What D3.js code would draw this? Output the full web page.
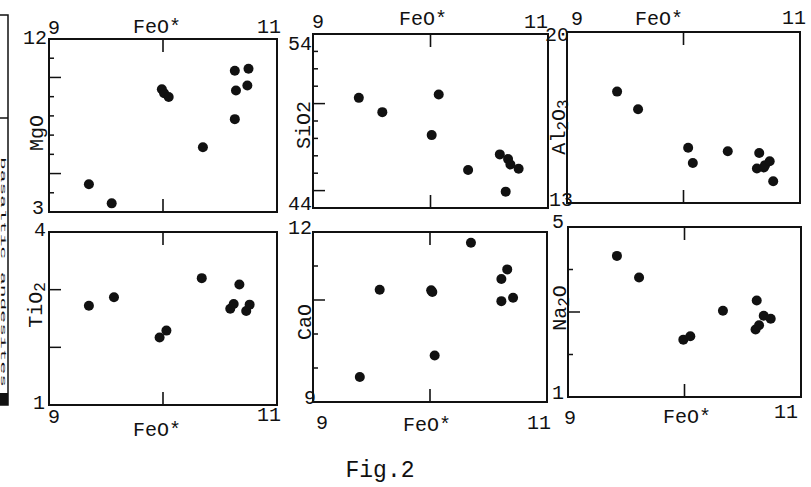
<!DOCTYPE html>
<html><head><meta charset="utf-8">
<script src="https://cdn.jsdelivr.net/npm/d3@7"></script>
<style>
html,body{margin:0;padding:0;background:#fff;}
svg{display:block;}
text{font-family:"Liberation Mono","DejaVu Sans Mono",monospace;fill:#111;}
</style></head>
<body>
<svg id="chart" width="811" height="487"></svg>
<script>
// ---- data ----
const feoDomain = [9, 11];
const feoTicks = [10];

const feoMgO = [9.35, 9.55, 9.99, 10.01, 10.05, 10.35, 10.63, 10.64, 10.74, 10.63, 10.75];
const mgo    = [4.44, 3.45, 9.39, 9.18, 8.98, 6.37, 7.83, 9.32, 9.58, 10.35, 10.45];

const feoSiO2 = [9.39, 9.59, 10.07, 10.01, 10.32, 10.59, 10.66, 10.68, 10.75, 10.64];
const sio2    = [50.33, 49.51, 50.52, 48.19, 46.18, 47.08, 46.81, 46.50, 46.26, 44.94];

const feoAl2O3 = [9.43, 9.61, 10.04, 10.08, 10.38, 10.65, 10.63, 10.69, 10.70, 10.74, 10.77];
const al2o3    = [17.56, 16.84, 15.26, 14.64, 15.12, 15.05, 14.41, 14.45, 14.55, 14.71, 13.89];

const feoTiO2 = [9.35, 9.57, 9.97, 10.03, 10.34, 10.67, 10.59, 10.62, 10.73, 10.76];
const tio2    = [2.72, 2.87, 2.17, 2.29, 3.20, 3.09, 2.67, 2.75, 2.63, 2.74];

const feoCaO = [9.40, 9.57, 10.01, 10.02, 10.04, 10.35, 10.66, 10.61, 10.61, 10.71];
const cao    = [9.44, 10.98, 10.97, 10.94, 9.82, 11.81, 11.34, 11.17, 10.78, 10.84];

const feoNa2O = [9.42, 9.61, 9.99, 10.05, 10.33, 10.62, 10.61, 10.64, 10.68, 10.74];
const na2o    = [4.32, 3.81, 2.35, 2.43, 3.03, 3.27, 2.59, 2.69, 2.91, 2.84];

const oxideNames = ["MgO", "SiO2", "Al2O3", "TiO2", "CaO", "Na2O"];
const yDomains = [[3, 12], [44, 54], [13, 20], [1, 4], [9, 12], [1, 5]];
const yTickLabels = [["3", "12"], ["44", "54"], ["13", "20"], ["1", "4"], ["9", "12"], ["1", "5"]];
const yMinor = [[4, 6, 7, 8, 9, 11], [46, 47, 48, 49, 51, 52, 53], [], [], [9.6, 10.2, 11.4], [2, 4]];
const yMajor = [[5, 10], [45, 50], [], [2, 3], [10.8], [3]];
const xSeries = [feoMgO, feoSiO2, feoAl2O3, feoTiO2, feoCaO, feoNa2O];
const ySeries = [mgo, sio2, al2o3, tio2, cao, na2o];

// ---- layout ----
const panels = [
  {l: 49, t: 39, r: 277, b: 212},
  {l: 313, t: 34, r: 548, b: 208},
  {l: 567, t: 32, r: 800, b: 203},
  {l: 49, t: 232, r: 277, b: 405},
  {l: 313, t: 232, r: 547, b: 402},
  {l: 568, t: 227, r: 801, b: 397}
];
const lab = [
  {ymax:[47,44], ymin:[44,214], x9:[48,34], x11:[281,33], feo:[157,33], title:[37,133], sub:false},
  {ymax:[312,50], ymin:[312,210], x9:[312,28], x11:[548,28], feo:[423,25], title:[304,125], sub:false},
  {ymax:[569,41], ymin:[573,206], x9:[571,25], x11:[806,24], feo:[659,25], title:[559,127], sub:true},
  {ymax:[46,236], ymin:[45,409], x9:[48,423], x11:[281,421], feo:[157,436], title:[36,305], sub:true},
  {ymax:[312,234], ymin:[316,404], x9:[316,429], x11:[551,429], feo:[427,431], title:[305,322], sub:false},
  {ymax:[564,228], ymin:[564,399], x9:[564,424], x11:[798,418], feo:[687,423], title:[560,308], sub:true}
];

const svg = d3.select("#chart");
const fs = 20;

panels.forEach((p, i) => {
  const x = d3.scaleLinear().domain(feoDomain).range([p.l, p.r]);
  const y = d3.scaleLinear().domain(yDomains[i]).range([p.b, p.t]);
  const g = svg.append("g");

  g.append("rect").attr("x", p.l).attr("y", p.t)
    .attr("width", p.r - p.l).attr("height", p.b - p.t)
    .attr("fill", "none").attr("stroke", "#111").attr("stroke-width", 2);

  feoTicks.forEach(v => {
    g.append("line").attr("x1", x(v)).attr("x2", x(v)).attr("y1", p.t).attr("y2", p.t + 13)
      .attr("stroke", "#111").attr("stroke-width", 1.6);
    g.append("line").attr("x1", x(v)).attr("x2", x(v)).attr("y1", p.b).attr("y2", p.b - 13)
      .attr("stroke", "#111").attr("stroke-width", 1.6);
  });
  yMinor[i].forEach(v => {
    g.append("line").attr("x1", p.l).attr("x2", p.l + 5).attr("y1", y(v)).attr("y2", y(v))
      .attr("stroke", "#111").attr("stroke-width", 1.5);
  });
  yMajor[i].forEach(v => {
    g.append("line").attr("x1", p.l).attr("x2", p.l + 12).attr("y1", y(v)).attr("y2", y(v))
      .attr("stroke", "#111").attr("stroke-width", 1.5);
  });

  const pts = d3.zip(xSeries[i], ySeries[i]);
  g.selectAll("circle").data(pts).join("circle")
    .attr("cx", d => x(d[0])).attr("cy", d => y(d[1])).attr("r", 5)
    .attr("fill", "#111");

  const L = lab[i];
  const txt = (pos, s, anchor) => g.append("text").attr("x", pos[0]).attr("y", pos[1])
    .attr("text-anchor", anchor).attr("font-size", fs).text(s);
  txt(L.ymax, yTickLabels[i][1], "end");
  txt(L.ymin, yTickLabels[i][0], "end");
  txt(L.x9, String(feoDomain[0]), "start");
  txt(L.x11, String(feoDomain[1]), "end");
  txt(L.feo, "FeO*", "middle");

  const t = g.append("text")
    .attr("transform", `translate(${L.title[0] + 6},${L.title[1]}) rotate(-90)`)
    .attr("text-anchor", "middle").attr("font-size", fs);
  const parts = oxideNames[i].split(/(\d)/).filter(s => s.length);
  let shifted = 0;
  parts.forEach(s => {
    const ts = t.append("tspan").text(s);
    if (/\d/.test(s) && L.sub) { ts.attr("font-size", fs - 4).attr("dy", 3 - shifted); shifted = 3; }
    else if (shifted) { ts.attr("dy", -shifted); shifted = 0; }
  });
});

// cut-off side box on the left edge
svg.append("path").attr("d", "M0,15 H8 V405 H0").attr("fill", "none")
  .attr("stroke", "#111").attr("stroke-width", 1.5);
svg.append("line").attr("x1", 0).attr("x2", 8).attr("y1", 118).attr("y2", 118)
  .attr("stroke", "#111").attr("stroke-width", 1.5);
svg.append("rect").attr("x", 0).attr("y", 393).attr("width", 8).attr("height", 12).attr("fill", "#111");
svg.append("text").attr("transform", "translate(0.5,272) rotate(90)")
  .attr("text-anchor", "middle").attr("font-size", 8)
  .attr("textLength", 230).attr("lengthAdjust", "spacingAndGlyphs")
  .text("basaltic andesites");

// caption
svg.append("text").attr("x", 380).attr("y", 477).attr("text-anchor", "middle")
  .attr("font-size", 23).text("Fig.2");
</script>
</body></html>
